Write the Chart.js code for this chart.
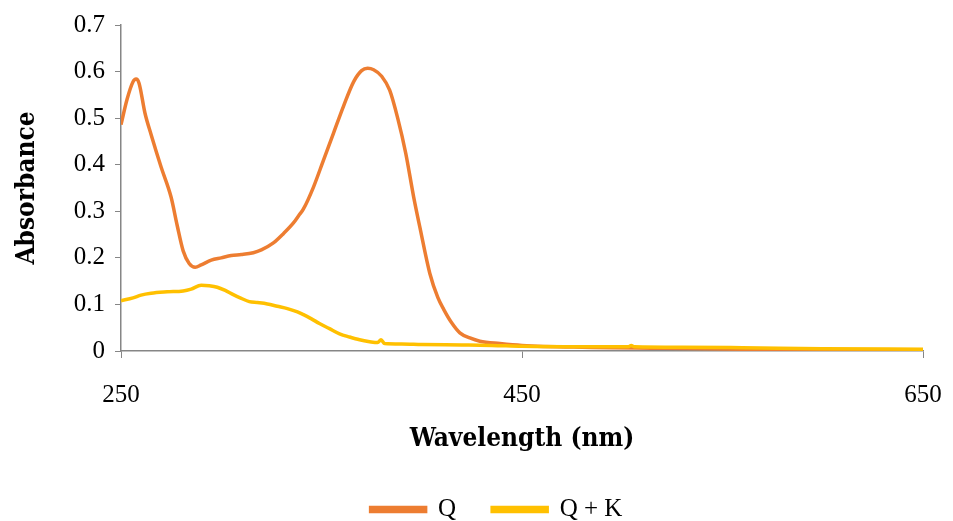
<!DOCTYPE html>
<html>
<head>
<meta charset="utf-8">
<script src="https://cdn.jsdelivr.net/npm/chart.js@4"></script>
<style>
  body { margin: 0; background: #fff; }
  #box { width: 953px; height: 521px; }
</style>
</head>
<body>
<div id="box"><canvas id="chart" width="953" height="521"></canvas></div>
<script>
// Q spectrum
const qWavelength = [250, 253, 256, 257.5, 259, 262, 265, 270, 275, 278, 281, 284, 287, 290, 295, 300, 305, 310, 316, 320, 326, 331, 336, 339, 341, 346, 351, 356, 361, 366, 370, 373, 376, 380, 384, 388, 392, 396, 399, 404, 408, 411, 415, 419, 424, 429, 439, 450, 480, 520, 560, 600, 650];
const qAbs = [0.486, 0.54, 0.578, 0.584, 0.575, 0.51, 0.465, 0.395, 0.33, 0.27, 0.215, 0.188, 0.18, 0.185, 0.195, 0.2, 0.205, 0.207, 0.211, 0.217, 0.232, 0.252, 0.275, 0.293, 0.305, 0.352, 0.41, 0.468, 0.526, 0.578, 0.602, 0.607, 0.604, 0.59, 0.56, 0.5, 0.425, 0.33, 0.267, 0.167, 0.115, 0.089, 0.06, 0.039, 0.028, 0.021, 0.016, 0.012, 0.008, 0.006, 0.004, 0.003, 0.002];

// Q + K spectrum
const qkWavelength = [250, 256, 260, 265, 273, 281, 285, 290, 294, 298, 302, 306, 310, 314, 318, 323, 328, 333, 338, 341, 345, 349, 354, 359, 364, 369, 374, 378, 379.7, 381.5, 390, 400, 420, 435, 450, 480, 503, 504.5, 506, 530, 560, 600, 650];
const qkAbs = [0.108, 0.114, 0.12, 0.124, 0.127, 0.129, 0.133, 0.141, 0.14, 0.137, 0.13, 0.121, 0.113, 0.106, 0.104, 0.101, 0.096, 0.091, 0.084, 0.078, 0.069, 0.059, 0.048, 0.037, 0.03, 0.024, 0.02, 0.018, 0.024, 0.016, 0.015, 0.014, 0.013, 0.012, 0.01, 0.009, 0.009, 0.012, 0.009, 0.008, 0.007, 0.005, 0.004];

const xTicks = [250, 450, 650];
const yTicks = [0, 0.1, 0.2, 0.3, 0.4, 0.5, 0.6, 0.7];

function toPoints(xs, ys) {
  return xs.map((x, i) => ({ x: x, y: ys[i] }));
}

const axisColor = "#868686";
const titleFont = {
  family: "'DejaVu Serif Condensed', 'Liberation Serif', serif",
  size: 26,
  weight: "bold",
};
Chart.defaults.font.family = "'Liberation Serif', 'Times New Roman', serif";
Chart.defaults.font.size = 25;
Chart.defaults.color = "#000";

// legend sits a bit right of centre in the original
const legendShift = {
  id: "legendShift",
  afterLayout(chart) {
    chart.legend.left += 35;
    chart.legend.right += 35;
  },
};

new Chart(document.getElementById("chart"), {
  type: "line",
  data: {
    datasets: [
      {
        label: "Q",
        data: toPoints(qWavelength, qAbs),
        borderColor: "#ED7D31",
        backgroundColor: "#ED7D31",
        borderWidth: 3.5,
        pointRadius: 0,
        cubicInterpolationMode: "monotone",
        order: 1,
      },
      {
        label: "Q + K",
        data: toPoints(qkWavelength, qkAbs),
        borderColor: "#FFC000",
        backgroundColor: "#FFC000",
        borderWidth: 3.5,
        pointRadius: 0,
        cubicInterpolationMode: "monotone",
        order: 0,
      },
    ],
  },
  plugins: [legendShift],
  options: {
    responsive: false,
    animation: false,
    layout: { padding: { top: 24, right: 30, left: 0, bottom: 0 } },
    plugins: {
      tooltip: { enabled: false },
      legend: {
        position: "bottom",
        maxHeight: 60,
        labels: {
          boxWidth: 55,
          boxHeight: 4,
          padding: 36,
          font: { size: 25 },
          sort: (a, b) => a.datasetIndex - b.datasetIndex,
        },
      },
    },
    scales: {
      x: {
        type: "linear",
        min: 250,
        max: 650,
        afterBuildTicks: (scale) => {
          scale.ticks = xTicks.map((v) => ({ value: v }));
        },
        afterFit: (scale) => {
          scale.height = 110;
          scale.paddingLeft = 0;
          scale.paddingRight = 0;
        },
        grid: {
          display: true,
          drawOnChartArea: false,
          color: axisColor,
          tickLength: 7,
        },
        border: { color: axisColor, width: 1.5 },
        ticks: { padding: 22, maxRotation: 0 },
        title: {
          display: true,
          text: "Wavelength (nm)",
          font: titleFont,
          padding: { top: 0, bottom: 6 },
        },
      },
      y: {
        min: 0,
        max: 0.7,
        afterBuildTicks: (scale) => {
          scale.ticks = yTicks.map((v) => ({ value: v }));
        },
        afterFit: (scale) => {
          scale.width = 121;
        },
        grid: {
          display: true,
          drawOnChartArea: false,
          color: axisColor,
          tickLength: 6,
        },
        border: { color: axisColor, width: 1.5 },
        ticks: { padding: 10 },
        title: {
          display: true,
          text: "Absorbance",
          font: titleFont,
          padding: { top: 12, bottom: 0 },
        },
      },
    },
  },
});
</script>
</body>
</html>
